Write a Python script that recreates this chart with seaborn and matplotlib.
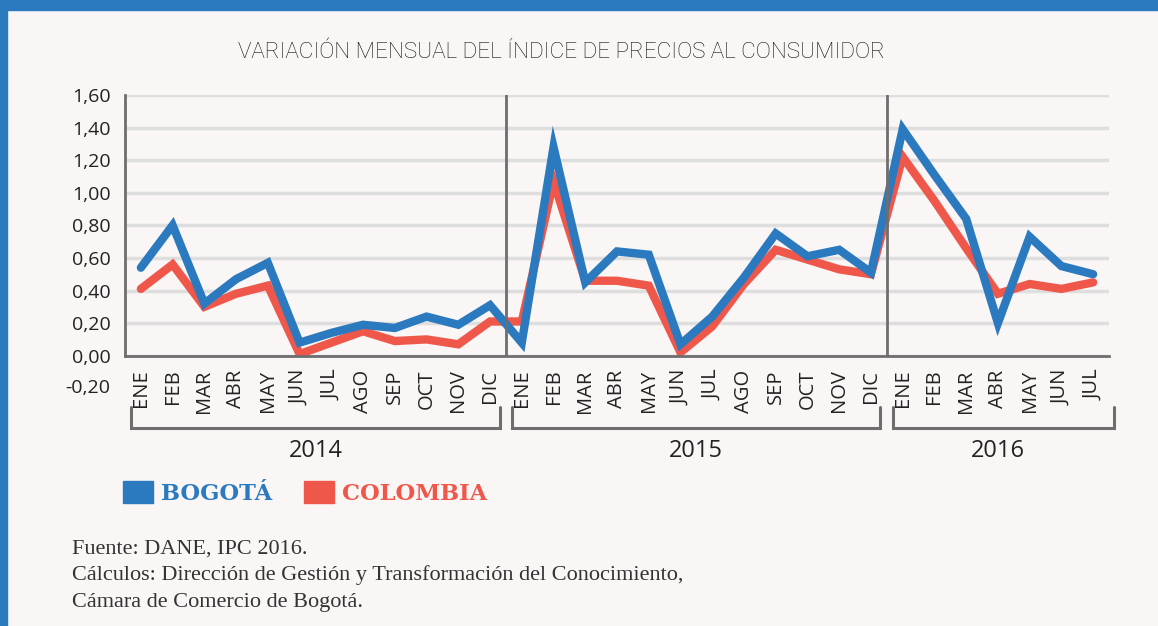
"""
Variacion mensual del IPC - Bogota vs Colombia
"""

import matplotlib
matplotlib.use('Agg')
import matplotlib.pyplot as plt
import matplotlib.transforms as mtransforms
from matplotlib.patches import Patch, Rectangle
import seaborn as sns
import pandas as pd


# Data
years = ['2014', '2015', '2016']
months_2014 = ['ENE', 'FEB', 'MAR', 'ABR', 'MAY', 'JUN', 'JUL', 'AGO', 'SEP', 'OCT', 'NOV', 'DIC']
months_2015 = ['ENE', 'FEB', 'MAR', 'ABR', 'MAY', 'JUN', 'JUL', 'AGO', 'SEP', 'OCT', 'NOV', 'DIC']
months_2016 = ['ENE', 'FEB', 'MAR', 'ABR', 'MAY', 'JUN', 'JUL']

bogota_2014 = [0.54, 0.80, 0.32, 0.47, 0.57, 0.08, 0.14, 0.19, 0.17, 0.24, 0.19, 0.31]
bogota_2015 = [0.08, 1.28, 0.45, 0.64, 0.62, 0.07, 0.24, 0.48, 0.75, 0.61, 0.65, 0.51]
bogota_2016 = [1.39, 1.11, 0.84, 0.20, 0.73, 0.55, 0.50]

colombia_2014 = [0.41, 0.56, 0.30, 0.38, 0.43, 0.01, 0.08, 0.15, 0.09, 0.10, 0.07, 0.21]
colombia_2015 = [0.21, 1.07, 0.46, 0.46, 0.43, 0.02, 0.18, 0.44, 0.65, 0.59, 0.53, 0.50]
colombia_2016 = [1.22, 0.95, 0.66, 0.38, 0.44, 0.41, 0.45]

y_ticks = [0.0, 0.2, 0.4, 0.6, 0.8, 1.0, 1.2, 1.4, 1.6]
y_extra_tick = -0.2

title = 'VARIACIÓN MENSUAL DEL ÍNDICE DE PRECIOS AL CONSUMIDOR'
source_lines = ['Fuente: DANE, IPC 2016.',
                'Cálculos: Dirección de Gestión y Transformación del Conocimiento,',
                'Cámara de Comercio de Bogotá.']

# Colors
BG = '#f9f6f5'
BLUE = '#2b79bf'
RED = '#f0574b'
AXIS = '#6e6e6e'
GRID = '#dedede'
TEXT = '#222222'

# Long-form table
month_groups = [months_2014, months_2015, months_2016]
month_labels = months_2014 + months_2015 + months_2016
bogota = bogota_2014 + bogota_2015 + bogota_2016
colombia = colombia_2014 + colombia_2015 + colombia_2016
pos = list(range(len(month_labels)))

df = pd.DataFrame({
    'pos': pos * 2,
    'valor': colombia + bogota,
    'serie': ['COLOMBIA'] * len(pos) + ['BOGOTÁ'] * len(pos),
})

sns.set_style("white")
plt.rcParams['font.family'] = ['Open Sans', 'DejaVu Sans']

W, H = 1158, 626
fig = plt.figure(figsize=(W / 100, H / 100), dpi=100, facecolor=BG)
ax = fig.add_axes([125 / W, 1 - 355.7 / H, 984 / W, 260.7 / H])
ax.set_facecolor(BG)

# blue frame (top band + left strip)
fig.patches.append(Rectangle((0, 1 - 10 / H), 1, 10 / H, transform=fig.transFigure,
                             color=BLUE, zorder=0))
fig.patches.append(Rectangle((0, 0), 7 / W, 1, transform=fig.transFigure,
                             color=BLUE, zorder=0))

sns.lineplot(data=df, x='pos', y='valor', hue='serie',
             hue_order=['COLOMBIA', 'BOGOTÁ'],
             palette={'BOGOTÁ': BLUE, 'COLOMBIA': RED},
             estimator=None, lw=6, solid_joinstyle='miter', solid_capstyle='round',
             legend=False, ax=ax, zorder=3)

ax.set_xlim(-0.5, len(pos) - 0.5)
ax.set_ylim(0, 1.6)
ax.set_xlabel('')
ax.set_ylabel('')

ax.set_yticks(y_ticks)
ax.set_yticklabels([f'{t:.2f}'.replace('.', ',') for t in y_ticks])
ax.set_xticks(pos)
ax.set_xticklabels(month_labels, rotation=90, fontsize=14.5)
ax.tick_params(axis='both', length=0, colors=TEXT)
ax.tick_params(axis='y', labelsize=14, pad=10)
ax.tick_params(axis='x', pad=10)

ax.yaxis.grid(True, color=GRID, lw=2.5)
ax.set_axisbelow(True)
for side in ['top', 'right']:
    ax.spines[side].set_visible(False)
for side in ['left', 'bottom']:
    ax.spines[side].set_color(AXIS)
    ax.spines[side].set_linewidth(2)
    ax.spines[side].set_zorder(4)

# extra -0,20 label under the axis
ytrans = mtransforms.blended_transform_factory(ax.transAxes, ax.transData)
ax.text(-15 / 984, y_extra_tick, f'{y_extra_tick:.2f}'.replace('.', ','),
        transform=ytrans, ha='right', va='center', fontsize=14, color=TEXT, clip_on=False)

# year separators and brackets
xtrans = mtransforms.blended_transform_factory(ax.transData, ax.transAxes)
start = 0
for year, months in zip(years, month_groups):
    end = start + len(months) - 1
    if start > 0:
        ax.axvline(start - 0.5, color=AXIS, lw=2, zorder=4)
    s, e = start - 0.3, end + 0.3
    if end == len(pos) - 1:
        e = end + 0.65
    ax.plot([s, s, e, e], [-0.197, -0.277, -0.277, -0.197], transform=xtrans,
            clip_on=False, color=AXIS, lw=2.2, solid_joinstyle='miter')
    ax.text((start + end) / 2, -0.365, year, transform=xtrans, ha='center', va='center',
            fontsize=17, color=TEXT)
    start = end + 1

fig.text(561 / W, 1 - 52 / H, title, ha='center', va='center', fontsize=16.2,
         family=['Roboto', 'DejaVu Sans'], fontweight='light', color='#111111')

handles = [Patch(color=BLUE, label='BOGOTÁ'), Patch(color=RED, label='COLOMBIA')]
fig.legend(handles=handles, loc='center left', bbox_to_anchor=(123 / W, 1 - 493 / H),
           ncol=2, frameon=False, handlelength=1.35, handleheight=1.15,
           handletextpad=0.35, columnspacing=1.4, borderpad=0, borderaxespad=0,
           prop={'family': 'DejaVu Serif', 'weight': 'bold', 'size': 16.2},
           labelcolor=[BLUE, RED])

for i, line in enumerate(source_lines):
    fig.text(72 / W, 1 - (549 + i * 26.5) / H, line, ha='left', va='center',
             fontsize=16, family=['Liberation Serif', 'DejaVu Serif'], color='#333333')

fig.savefig('out.png', dpi=100, facecolor=BG)
